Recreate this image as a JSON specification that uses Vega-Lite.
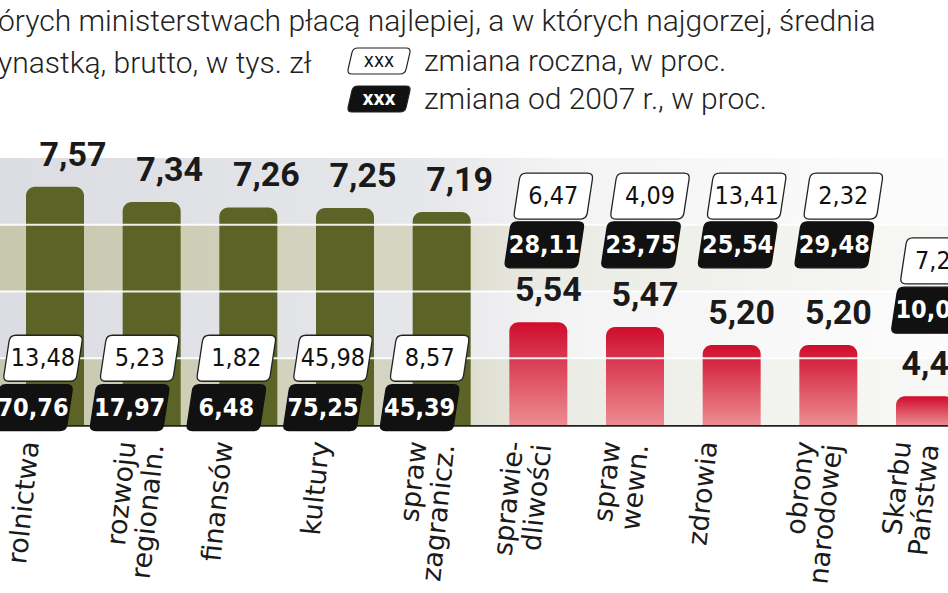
{
  "$schema": "https://vega.github.io/schema/vega-lite/v6.json",
  "width": 948,
  "height": 285,
  "autosize": {"type": "none"},
  "padding": {"left": 0, "top": 140, "right": 0, "bottom": 168},
  "background": "white",
  "title": {
    "text": ["órych ministerstwach płacą najlepiej, a w których najgorzej, średnia", "ynastką, brutto, w tys. zł"],
    "anchor": "start",
    "frame": "group",
    "font": "Roboto",
    "fontWeight": 300,
    "fontSize": 30,
    "lineHeight": 42,
    "color": "#222222",
    "offset": -32,
    "dx": -2
  },
  "datasets": {
    "ministerstwa": [
      {"ministerstwo": "rolnictwa", "placa": 7.57, "roczna": 13.48, "od2007": 70.76, "grupa": "najlepiej"},
      {"ministerstwo": "rozwoju regionaln.", "placa": 7.34, "roczna": 5.23, "od2007": 17.97, "grupa": "najlepiej"},
      {"ministerstwo": "finansów", "placa": 7.26, "roczna": 1.82, "od2007": 6.48, "grupa": "najlepiej"},
      {"ministerstwo": "kultury", "placa": 7.25, "roczna": 45.98, "od2007": 75.25, "grupa": "najlepiej"},
      {"ministerstwo": "spraw zagranicz.", "placa": 7.19, "roczna": 8.57, "od2007": 45.39, "grupa": "najlepiej"},
      {"ministerstwo": "sprawiedliwości", "placa": 5.54, "roczna": 6.47, "od2007": 28.11, "grupa": "najgorzej"},
      {"ministerstwo": "spraw wewn.", "placa": 5.47, "roczna": 4.09, "od2007": 23.75, "grupa": "najgorzej"},
      {"ministerstwo": "zdrowia", "placa": 5.20, "roczna": 13.41, "od2007": 25.54, "grupa": "najgorzej"},
      {"ministerstwo": "obrony narodowej", "placa": 5.20, "roczna": 2.32, "od2007": 29.48, "grupa": "najgorzej"},
      {"ministerstwo": "Skarbu Państwa", "placa": 4.43, "roczna": 7.24, "od2007": 10.05, "grupa": "najgorzej"}
    ],
    "pasma": [
      {"od": 4, "do": 5, "kolor": "b"},
      {"od": 5, "do": 6, "kolor": "g"},
      {"od": 6, "do": 7, "kolor": "b"},
      {"od": 7, "do": 8, "kolor": "g"}
    ]
  },
  "data": {"name": "ministerstwa"},
  "layer": [
    {
      "data": {"name": "pasma"},
      "transform": [{"filter": "datum.kolor == 'b'"}],
      "mark": {
        "type": "rect",
        "color": {"gradient": "linear", "x1": 0, "y1": 0, "x2": 1, "y2": 0,
          "stops": [
            {"offset": 0, "color": "#c8c8ae"},
            {"offset": 0.45, "color": "#d6d6c4"},
            {"offset": 0.58, "color": "#ebebe5"},
            {"offset": 1, "color": "#f8f8f6"}
          ]}
      },
      "encoding": {
        "y": {"field": "od", "type": "quantitative", "scale": {"domain": [4, 8.27], "nice": false, "zero": false}, "axis": null},
        "y2": {"field": "do"}
      }
    },
    {
      "data": {"name": "pasma"},
      "transform": [{"filter": "datum.kolor == 'g'"}],
      "mark": {
        "type": "rect",
        "color": {"gradient": "linear", "x1": 0, "y1": 0, "x2": 1, "y2": 0,
          "stops": [
            {"offset": 0, "color": "#dcdde3"},
            {"offset": 0.45, "color": "#e6e7ea"},
            {"offset": 0.6, "color": "#f4f4f4"},
            {"offset": 1, "color": "#fcfcfc"}
          ]}
      },
      "encoding": {
        "y": {"field": "od", "type": "quantitative"},
        "y2": {"field": "do"}
      }
    },
    {
      "transform": [{"filter": "datum.grupa == 'najlepiej'"}],
      "mark": {"type": "bar", "color": "#5b6327", "cornerRadiusTopLeft": 9, "cornerRadiusTopRight": 9},
      "encoding": {
        "x": {
          "field": "ministerstwo", "type": "nominal", "sort": null,
          "scale": {
            "domain": ["rolnictwa", "rozwoju regionaln.", "finansów", "kultury", "spraw zagranicz.", "sprawiedliwości", "spraw wewn.", "zdrowia", "obrony narodowej", "Skarbu Państwa"],
            "range": [-3, 983], "paddingInner": 0.4, "paddingOuter": 0.3
          },
          "axis": {
            "title": null, "ticks": false, "domain": true, "domainColor": "#222222", "domainWidth": 2.5,
            "labelAngle": 276, "labelAlign": "right", "labelBaseline": "middle",
            "labelFont": "DejaVu Sans", "labelFontSize": 27, "labelColor": "#1a1a1a",
            "labelPadding": 16, "labelOffset": {"expr": "-24 + 2.0 * datum.index"},
            "labelLineHeight": 28, "labelOverlap": false, "labelBound": false, "labelFlush": false, "labelLimit": 0,
            "labelExpr": "datum.value == 'sprawiedliwości' ? ['sprawie-', 'dliwości'] : split(datum.value, ' ')"
          }
        },
        "y": {"field": "placa", "type": "quantitative"},
        "y2": {"datum": 4}
      }
    },
    {
      "transform": [{"filter": "datum.grupa == 'najgorzej'"}],
      "mark": {
        "type": "bar", "cornerRadiusTopLeft": 9, "cornerRadiusTopRight": 9,
        "color": {"gradient": "linear", "x1": 0, "y1": 0, "x2": 0, "y2": 1,
          "stops": [
            {"offset": 0, "color": "#cf0c2c"},
            {"offset": 1, "color": "#ec8c92"}
          ]}
      },
      "encoding": {
        "x": {"field": "ministerstwo", "type": "nominal", "sort": null},
        "y": {"field": "placa", "type": "quantitative"},
        "y2": {"datum": 4}
      }
    },
    {
      "data": {"name": "pasma"},
      "transform": [{"filter": "datum.do < 8"}],
      "mark": {"type": "rule", "color": "white", "strokeWidth": 2, "opacity": 0.9},
      "encoding": {
        "y": {"field": "do", "type": "quantitative"}
      }
    },
    {
      "transform": [{"filter": "datum.grupa == 'najlepiej'"}],
      "mark": {"type": "text", "font": "Roboto", "fontWeight": "bold", "fontSize": 34, "baseline": "alphabetic", "dx": 18, "dy": -21, "color": "#1a1a1a"},
      "encoding": {
        "x": {"field": "ministerstwo", "type": "nominal", "sort": null},
        "y": {"field": "placa", "type": "quantitative"},
        "text": {"field": "placa", "type": "quantitative", "format": ".2f"}
      }
    },
    {
      "transform": [{"filter": "datum.grupa == 'najgorzej'"}],
      "mark": {"type": "text", "font": "Roboto", "fontWeight": "bold", "fontSize": 34, "baseline": "alphabetic", "dx": 10, "dy": -21, "color": "#1a1a1a"},
      "encoding": {
        "x": {"field": "ministerstwo", "type": "nominal", "sort": null},
        "y": {"field": "placa", "type": "quantitative"},
        "text": {"field": "placa", "type": "quantitative", "format": ".2f"}
      }
    },
    {
      "transform": [{"filter": "datum.grupa == 'najlepiej'"}],
      "mark": {"type": "point", "filled": true, "size": 6400, "stroke": "#222222", "strokeWidth": 1.3, "opacity": 1, "xOffset": -12,
        "shape": "M-0.675,-0.575L0.85,-0.575Q1,-0.575,0.977,-0.427L0.848,0.427Q0.825,0.575,0.675,0.575L-0.85,0.575Q-1,0.575,-0.977,0.427L-0.848,-0.427Q-0.825,-0.575,-0.675,-0.575Z"},
      "encoding": {
        "x": {"field": "ministerstwo", "type": "nominal", "sort": null},
        "y": {"datum": 5.0},
        "fill": {
          "datum": "roczna", "type": "nominal",
          "scale": {"domain": ["roczna", "od2007"], "range": ["white", "#111111"]},
          "legend": {
            "orient": "none", "legendX": 365, "legendY": -93, "title": null, "direction": "vertical", "padding": 0,
            "symbolType": "M-1.615,-1L2.075,-1Q2.46,-1,2.374,-0.625L2.086,0.625Q2,1,1.615,1L-2.075,1Q-2.46,1,-2.374,0.625L-2.086,-0.625Q-2,-1,-1.615,-1Z",
            "symbolSize": 676, "symbolStrokeColor": "#222222", "symbolStrokeWidth": 1.2,
            "labelExpr": "'xxx'", "labelAlign": "center", "labelOffset": -14, "labelLimit": 0,
            "labelFont": "DejaVu Sans Condensed, Roboto, sans-serif", "labelFontSize": 19,
            "labelColor": {"expr": "datum.value == 'od2007' ? 'white' : '#111111'"},
            "labelFontWeight": {"expr": "datum.value == 'od2007' ? 'bold' : 'normal'"},
            "rowPadding": 6
          }
        },
        "opacity": {
          "datum": "zmiana roczna, w proc.", "type": "ordinal",
          "scale": {"domain": ["zmiana roczna, w proc.", "zmiana od 2007 r., w proc."], "range": [1, 1]},
          "legend": {
            "orient": "none", "legendX": 392, "legendY": -93, "title": null, "direction": "vertical", "padding": 0,
            "symbolType": "M0,0", "symbolSize": 676, "symbolStrokeWidth": 0,
            "labelFont": "Roboto", "labelFontWeight": 300, "labelFontSize": 30, "labelColor": "#222222",
            "labelOffset": 2, "labelLimit": 0, "rowPadding": 8
          }
        }
      }
    },
    {
      "transform": [{"filter": "datum.grupa == 'najlepiej'"}],
      "mark": {"type": "text", "font": "DejaVu Sans Condensed, Roboto, sans-serif", "fontSize": 25, "color": "#111111", "baseline": "middle", "dx": -12},
      "encoding": {
        "x": {"field": "ministerstwo", "type": "nominal", "sort": null},
        "y": {"datum": 5.0},
        "text": {"field": "roczna", "type": "quantitative", "format": ".2f"}
      }
    },
    {
      "transform": [{"filter": "datum.grupa == 'najlepiej'"}],
      "mark": {"type": "point", "filled": true, "size": 6400, "stroke": "#111111", "strokeWidth": 1.3, "opacity": 1, "xOffset": -22,
        "shape": "M-0.675,-0.575L0.85,-0.575Q1,-0.575,0.977,-0.427L0.848,0.427Q0.825,0.575,0.675,0.575L-0.85,0.575Q-1,0.575,-0.977,0.427L-0.848,-0.427Q-0.825,-0.575,-0.675,-0.575Z"},
      "encoding": {
        "x": {"field": "ministerstwo", "type": "nominal", "sort": null},
        "y": {"datum": 4.26},
        "fill": {"datum": "od2007", "type": "nominal"},
        "opacity": {"datum": "zmiana od 2007 r., w proc.", "type": "ordinal"}
      }
    },
    {
      "transform": [{"filter": "datum.grupa == 'najlepiej'"}],
      "mark": {"type": "text", "font": "DejaVu Sans Condensed, Roboto, sans-serif", "fontWeight": "bold", "fontSize": 25, "color": "white", "baseline": "middle", "dx": -22},
      "encoding": {
        "x": {"field": "ministerstwo", "type": "nominal", "sort": null},
        "y": {"datum": 4.26},
        "text": {"field": "od2007", "type": "quantitative", "format": ".2f"}
      }
    },
    {
      "transform": [{"filter": "datum.grupa == 'najgorzej' && datum.ministerstwo != 'Skarbu Państwa'"}],
      "mark": {"type": "point", "filled": true, "fill": "white", "size": 6400, "stroke": "#222222", "strokeWidth": 1.3, "opacity": 1, "xOffset": 15,
        "shape": "M-0.675,-0.575L0.85,-0.575Q1,-0.575,0.977,-0.427L0.848,0.427Q0.825,0.575,0.675,0.575L-0.85,0.575Q-1,0.575,-0.977,0.427L-0.848,-0.427Q-0.825,-0.575,-0.675,-0.575Z"},
      "encoding": {
        "x": {"field": "ministerstwo", "type": "nominal", "sort": null},
        "y": {"datum": 7.43}
      }
    },
    {
      "transform": [{"filter": "datum.grupa == 'najgorzej' && datum.ministerstwo != 'Skarbu Państwa'"}],
      "mark": {"type": "text", "font": "DejaVu Sans Condensed, Roboto, sans-serif", "fontSize": 25, "color": "#111111", "baseline": "middle", "dx": 15},
      "encoding": {
        "x": {"field": "ministerstwo", "type": "nominal", "sort": null},
        "y": {"datum": 7.43},
        "text": {"field": "roczna", "type": "quantitative", "format": ".2f"}
      }
    },
    {
      "transform": [{"filter": "datum.grupa == 'najgorzej' && datum.ministerstwo != 'Skarbu Państwa'"}],
      "mark": {"type": "point", "filled": true, "fill": "#111111", "size": 6400, "stroke": "#111111", "strokeWidth": 1.3, "opacity": 1, "xOffset": 6,
        "shape": "M-0.675,-0.575L0.85,-0.575Q1,-0.575,0.977,-0.427L0.848,0.427Q0.825,0.575,0.675,0.575L-0.85,0.575Q-1,0.575,-0.977,0.427L-0.848,-0.427Q-0.825,-0.575,-0.675,-0.575Z"},
      "encoding": {
        "x": {"field": "ministerstwo", "type": "nominal", "sort": null},
        "y": {"datum": 6.70}
      }
    },
    {
      "transform": [{"filter": "datum.grupa == 'najgorzej' && datum.ministerstwo != 'Skarbu Państwa'"}],
      "mark": {"type": "text", "font": "DejaVu Sans Condensed, Roboto, sans-serif", "fontWeight": "bold", "fontSize": 25, "color": "white", "baseline": "middle", "dx": 6},
      "encoding": {
        "x": {"field": "ministerstwo", "type": "nominal", "sort": null},
        "y": {"datum": 6.70},
        "text": {"field": "od2007", "type": "quantitative", "format": ".2f"}
      }
    },
    {
      "transform": [{"filter": "datum.ministerstwo == 'Skarbu Państwa'"}],
      "mark": {"type": "point", "filled": true, "fill": "white", "size": 6400, "stroke": "#222222", "strokeWidth": 1.3, "opacity": 1, "xOffset": 15,
        "shape": "M-0.675,-0.575L0.85,-0.575Q1,-0.575,0.977,-0.427L0.848,0.427Q0.825,0.575,0.675,0.575L-0.85,0.575Q-1,0.575,-0.977,0.427L-0.848,-0.427Q-0.825,-0.575,-0.675,-0.575Z"},
      "encoding": {
        "x": {"field": "ministerstwo", "type": "nominal", "sort": null},
        "y": {"datum": 6.46}
      }
    },
    {
      "transform": [{"filter": "datum.ministerstwo == 'Skarbu Państwa'"}],
      "mark": {"type": "text", "font": "DejaVu Sans Condensed, Roboto, sans-serif", "fontSize": 25, "color": "#111111", "baseline": "middle", "dx": 15},
      "encoding": {
        "x": {"field": "ministerstwo", "type": "nominal", "sort": null},
        "y": {"datum": 6.46},
        "text": {"field": "roczna", "type": "quantitative", "format": ".2f"}
      }
    },
    {
      "transform": [{"filter": "datum.ministerstwo == 'Skarbu Państwa'"}],
      "mark": {"type": "point", "filled": true, "fill": "#111111", "size": 6400, "stroke": "#111111", "strokeWidth": 1.3, "opacity": 1, "xOffset": 6,
        "shape": "M-0.675,-0.575L0.85,-0.575Q1,-0.575,0.977,-0.427L0.848,0.427Q0.825,0.575,0.675,0.575L-0.85,0.575Q-1,0.575,-0.977,0.427L-0.848,-0.427Q-0.825,-0.575,-0.675,-0.575Z"},
      "encoding": {
        "x": {"field": "ministerstwo", "type": "nominal", "sort": null},
        "y": {"datum": 5.72}
      }
    },
    {
      "transform": [{"filter": "datum.ministerstwo == 'Skarbu Państwa'"}],
      "mark": {"type": "text", "font": "DejaVu Sans Condensed, Roboto, sans-serif", "fontWeight": "bold", "fontSize": 25, "color": "white", "baseline": "middle", "dx": 6},
      "encoding": {
        "x": {"field": "ministerstwo", "type": "nominal", "sort": null},
        "y": {"datum": 5.72},
        "text": {"field": "od2007", "type": "quantitative", "format": ".2f"}
      }
    }
  ],
  "config": {
    "view": {"stroke": null},
    "locale": {"number": {"decimal": ",", "thousands": " ", "grouping": [3], "currency": ["", " zł"]}}
  }
}
